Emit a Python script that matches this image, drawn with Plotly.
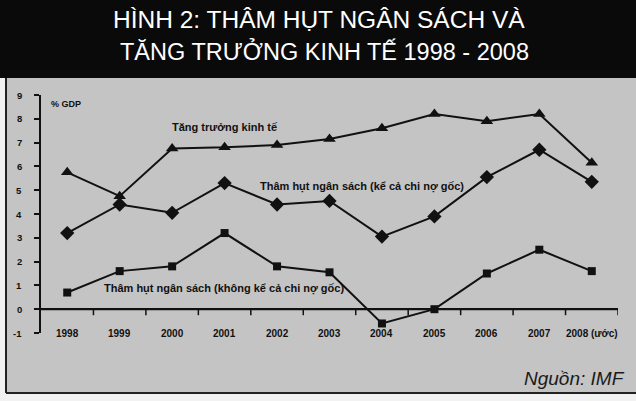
import plotly.graph_objects as go

years = ["1998", "1999", "2000", "2001", "2002", "2003", "2004", "2005", "2006", "2007", "2008 (ước)"]
growth = [5.75, 4.75, 6.75, 6.8, 6.9, 7.15, 7.6, 8.2, 7.9, 8.2, 6.15]
deficit_incl = [3.2, 4.4, 4.05, 5.3, 4.4, 4.55, 3.05, 3.9, 5.55, 6.7, 5.35]
deficit_excl = [0.7, 1.6, 1.8, 3.2, 1.8, 1.55, -0.6, 0.0, 1.5, 2.5, 1.6]
y_ticks = list(range(-1, 10))

title_lines = ["HÌNH 2: THÂM HỤT NGÂN SÁCH VÀ", "TĂNG TRƯỞNG KINH TẾ 1998 - 2008"]
label_growth = "Tăng trưởng kinh tế"
label_incl = "Thâm hụt ngân sách (kể cả chi nợ gốc)"
label_excl = "Thâm hụt ngân sách (không kể cả chi nợ gốc)"
unit_label = "% GDP"
source = "Nguồn: IMF"

W, H = 636, 401
L, R, T, B = 41, 618, 95, 333


def px(x):
    return (x - L) / (R - L)


def py(y):
    return (B - y) / (B - T)


idx = list(range(len(years)))
LINE = "#111111"
FONT = "Liberation Sans, Arial, sans-serif"
PANEL = "#c4c4c4"
PAGE = "#f2f2f2"

fig = go.Figure()
fig.add_trace(go.Scatter(x=idx, y=growth, mode="lines+markers",
                         line=dict(color=LINE, width=2),
                         marker=dict(symbol="triangle-up", size=11, color=LINE),
                         name=label_growth))
fig.add_trace(go.Scatter(x=idx, y=deficit_incl, mode="lines+markers",
                         line=dict(color=LINE, width=2),
                         marker=dict(symbol="diamond", size=11, color=LINE),
                         name=label_incl))
fig.add_trace(go.Scatter(x=idx, y=deficit_excl, mode="lines+markers",
                         line=dict(color=LINE, width=2),
                         marker=dict(symbol="square", size=8, color=LINE),
                         name=label_excl))

x_lo, x_hi = -0.5, len(years) - 0.5

shapes = [
    # light page strips outside the grey panel
    dict(type="rect", xref="paper", yref="paper", x0=px(-5), x1=px(6), y0=py(410), y1=py(-5),
         fillcolor=PAGE, line=dict(width=0)),
    dict(type="rect", xref="paper", yref="paper", x0=px(-5), x1=px(640), y0=py(410), y1=py(393),
         fillcolor=PAGE, line=dict(width=0)),
    # panel borders
    dict(type="line", xref="paper", yref="paper", x0=px(6), x1=px(6), y0=py(393), y1=py(76),
         line=dict(color="#222222", width=2)),
    dict(type="line", xref="paper", yref="paper", x0=px(6), x1=px(640), y0=py(393), y1=py(393),
         line=dict(color="#222222", width=2)),
    # black header
    dict(type="rect", xref="paper", yref="paper", x0=px(-5), x1=px(640), y0=py(78), y1=py(-5),
         fillcolor="#0a0a0a", line=dict(width=0)),
    # zero line of the category axis
    dict(type="line", xref="x", yref="y", x0=x_lo, x1=x_hi, y0=0, y1=0,
         line=dict(color=LINE, width=2)),
]
# tick marks hanging below the zero line, at category boundaries
for i in idx:
    shapes.append(dict(type="line", xref="x", yref="y", ysizemode="pixel", yanchor=0,
                       x0=i + 0.5, x1=i + 0.5, y0=0, y1=-6,
                       line=dict(color=LINE, width=1.5)))

annotations = [
    dict(text=title_lines[0], x=px(319), y=py(19), xref="paper", yref="paper", showarrow=False,
         font=dict(family=FONT, size=24.5, color="white"), xanchor="center", yanchor="middle"),
    dict(text=title_lines[1], x=px(324), y=py(51), xref="paper", yref="paper", showarrow=False,
         font=dict(family=FONT, size=23.5, color="white"), xanchor="center", yanchor="middle"),
    dict(text="<b>" + unit_label + "</b>", x=px(49), y=py(104), xref="paper", yref="paper",
         showarrow=False, font=dict(family=FONT, size=9, color="#111"), xanchor="left", yanchor="middle"),
    dict(text="<b>" + label_growth + "</b>", x=px(170), y=py(127), xref="paper", yref="paper",
         showarrow=False, font=dict(family=FONT, size=11, color="#111"), xanchor="left", yanchor="middle"),
    dict(text="<b>" + label_incl + "</b>", x=px(258), y=py(186), xref="paper", yref="paper",
         showarrow=False, font=dict(family=FONT, size=11, color="#111"), xanchor="left", yanchor="middle"),
    dict(text="<b>" + label_excl + "</b>", x=px(102), y=py(288), xref="paper", yref="paper",
         showarrow=False, font=dict(family=FONT, size=11, color="#111"), xanchor="left", yanchor="middle"),
    dict(text="<i>" + source + "</i>", x=px(522), y=py(378), xref="paper", yref="paper",
         showarrow=False, font=dict(family=FONT, size=19, color="#1a1a1a"), xanchor="left", yanchor="middle"),
]
# category labels, level with the -1 tick
for i, lab in zip(idx, years):
    annotations.append(dict(text="<b>" + lab + "</b>", x=i, y=y_ticks[0], xref="x", yref="y",
                            showarrow=False, xanchor="center", yanchor="middle",
                            font=dict(family=FONT, size=10, color="#111")))
# value labels left of the axis
for v in y_ticks:
    annotations.append(dict(text="<b>" + str(v) + "</b>", x=0, y=v, xref="paper", yref="y",
                            xshift=-17, showarrow=False, xanchor="right", yanchor="middle",
                            font=dict(family=FONT, size=9.5, color="#111")))

fig.update_layout(
    width=W, height=H,
    margin=dict(l=L, r=W - R, t=T, b=H - B, pad=0),
    paper_bgcolor=PANEL,
    plot_bgcolor=PANEL,
    showlegend=False,
    shapes=shapes,
    annotations=annotations,
    xaxis=dict(range=[x_lo, x_hi], showticklabels=False,
               showline=False, ticks="", showgrid=False, zeroline=False, automargin=False),
    yaxis=dict(range=[y_ticks[0], y_ticks[-1]], tickvals=y_ticks, showticklabels=False,
               ticks="outside", ticklen=5, tickwidth=1.5, tickcolor=LINE,
               showline=True, linecolor=LINE, linewidth=2, showgrid=False,
               zeroline=True, zerolinecolor=LINE, zerolinewidth=2, automargin=False),
)

fig.write_html("out.html", config={"displayModeBar": False},
               post_script="document.body.style.margin='0';")
